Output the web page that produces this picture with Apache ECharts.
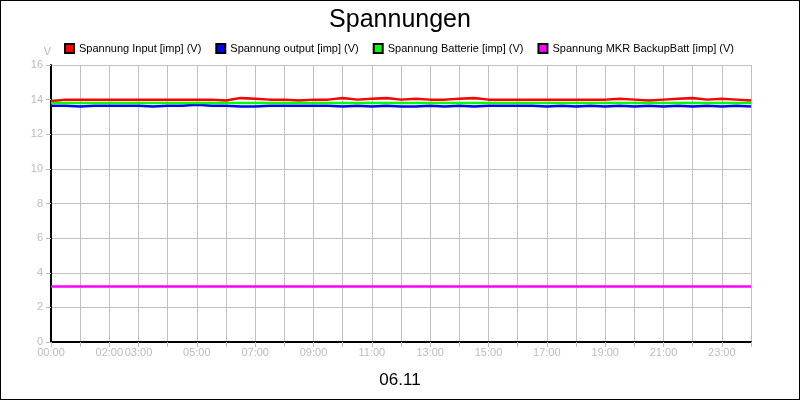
<!DOCTYPE html>
<html><head><meta charset="utf-8">
<script src="https://cdn.jsdelivr.net/npm/echarts@6/dist/echarts.min.js"></script>
<style>html,body{margin:0;padding:0}#c{width:798px;height:398px;border:1px solid #000;background:#fff}</style>
</head><body><div id="c"></div>
<script>
// half-hour samples, 00:00 .. 24:00
var hours = [];
for (var i = 0; i <= 48; i++) hours.push(i / 2);
var labelHours = [0, 2, 3, 5, 7, 9, 11, 13, 15, 17, 19, 21, 23];
var input = [13.9,14.0,14.0,14.0,14.0,14.0,14.0,14.0,14.0,14.0,14.0,14.0,13.95,14.1,14.05,14.0,14.0,13.95,14.0,14.0,14.1,14.0,14.05,14.1,14.0,14.05,14.0,14.0,14.05,14.1,14.0,14.0,14.0,14.0,14.0,14.0,14.0,14.0,14.0,14.05,14.0,13.95,14.0,14.05,14.1,14.0,14.05,14.0,13.95];
var output = [13.65,13.65,13.6,13.65,13.65,13.65,13.65,13.6,13.65,13.65,13.7,13.65,13.65,13.6,13.6,13.65,13.65,13.65,13.65,13.65,13.6,13.65,13.6,13.65,13.6,13.6,13.65,13.6,13.65,13.6,13.65,13.65,13.65,13.65,13.6,13.65,13.6,13.65,13.6,13.65,13.6,13.65,13.6,13.65,13.6,13.65,13.6,13.65,13.6];
var batterie = [];
var backup = [];
for (var j = 0; j <= 48; j++) { batterie.push(13.8); backup.push(3.2); }
function pts(arr) { return hours.map(function (h, k) { return [h, arr[k]]; }); }

var chart = echarts.init(document.getElementById('c'));
var font = 'Arial, "Liberation Sans", sans-serif';
function ser(name, color, data) {
  return { name: name, type: 'line', data: pts(data), symbol: 'none', lineStyle: { color: color, width: 2.5 }, itemStyle: { color: color, borderColor: '#000', borderWidth: 1 } };
}
chart.setOption({
  animation: false,
  title: [
    { text: 'Spannungen', left: 'center', top: 2, textStyle: { fontFamily: font, fontSize: 25, fontWeight: 'normal', color: '#000' } },
    { text: '06.11', left: 'center', top: 366, textStyle: { fontFamily: font, fontSize: 17, fontWeight: 'normal', color: '#000' } }
  ],
  legend: {
    top: 37, left: 58, itemWidth: 9, itemHeight: 9, itemGap: 14, icon: 'rect',
    textStyle: { fontFamily: font, fontSize: 11, color: '#000' }
  },
  grid: { left: 50, right: 48, top: 64, bottom: 57 },
  xAxis: {
    type: 'value', min: 0, max: 24, interval: 1,
    axisLine: { lineStyle: { color: '#000', width: 2 } },
    axisTick: { lineStyle: { color: '#bbb' }, length: 5 },
    splitLine: { lineStyle: { color: '#c0c0c0' } },
    axisLabel: {
      color: '#bbb', fontFamily: font, fontSize: 11, margin: 5,
      formatter: function (v) { return labelHours.indexOf(v) >= 0 ? (v < 10 ? '0' : '') + v + ':00' : ''; }
    }
  },
  yAxis: {
    type: 'value', min: 0, max: 16, interval: 2, name: 'V', nameGap: 8,
    nameTextStyle: { color: '#bbb', fontFamily: font, fontSize: 11, align: 'right' },
    axisLine: { show: true, lineStyle: { color: '#000', width: 2 } },
    axisTick: { show: true, lineStyle: { color: '#bbb' }, length: 5 },
    splitLine: { lineStyle: { color: '#c0c0c0' } },
    axisLabel: { color: '#bbb', fontFamily: font, fontSize: 11, margin: 8 }
  },
  series: [
    ser('Spannung Input [imp] (V)', '#ff0000', input),
    ser('Spannung output [imp] (V)', '#0000ff', output),
    ser('Spannung Batterie [imp] (V)', '#00ff00', batterie),
    ser('Spannung MKR BackupBatt [imp] (V)', '#ff00ff', backup)
  ]
});
</script></body></html>
